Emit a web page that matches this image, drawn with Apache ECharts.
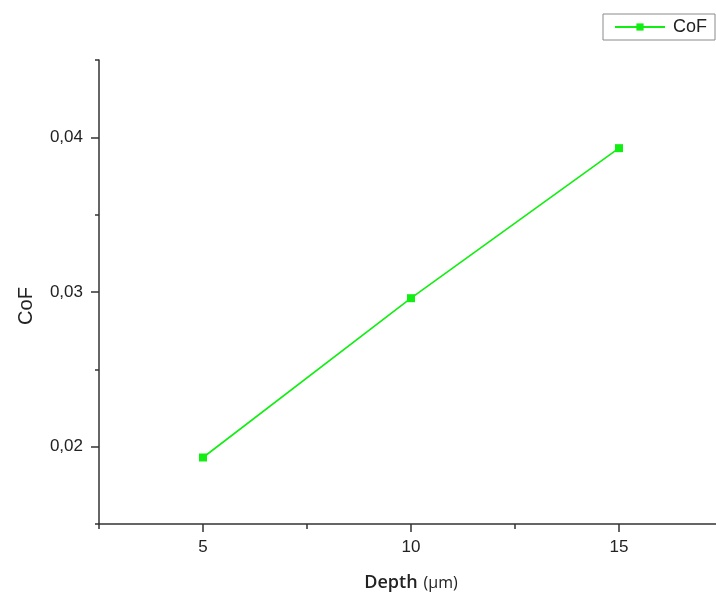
<!DOCTYPE html>
<html>
<head>
<meta charset="utf-8">
<script src="https://cdn.jsdelivr.net/npm/echarts@6/dist/echarts.min.js"></script>
<style>
  html, body { margin: 0; padding: 0; background: #ffffff; }
  #chart { width: 716px; height: 598px; }
</style>
</head>
<body>
<div id="chart"></div>
<script>
// Coefficient of friction measured at each scratch depth
const depths = [5, 10, 15];
const cofValues = [0.0193, 0.0296, 0.0393];

// Axis ranges and tick positions
const xRange = [2.5, 17.5];
const yRange = [0.015, 0.045];
const xMajorTicks = [5, 10, 15];
const xMinorTicks = [2.5, 7.5, 12.5, 17.5];
const yMajorTicks = [0.02, 0.03, 0.04];
const yMinorTicks = [0.015, 0.025, 0.035, 0.045];

const axisColor = '#333333';
const textColor = '#222222';
const green = '#11ee11';

const chart = echarts.init(document.getElementById('chart'), null, { renderer: 'canvas' });

const seriesData = depths.map((d, i) => [d, cofValues[i]]);

const option = {
  backgroundColor: '#ffffff',
  animation: false,
  grid: {
    left: 99, right: -7, top: 60, bottom: 74,
    containLabel: false,
    outerBoundsMode: 'none'
  },
  legend: {
    data: ['CoF'],
    left: 603,
    top: 14,
    itemWidth: 50,
    itemHeight: 9,
    borderColor: '#8a8a8a',
    borderWidth: 1,
    padding: [3, 8, 3, 11],
    textStyle: {
      fontFamily: 'Liberation Sans, Arial, sans-serif',
      fontSize: 18,
      lineHeight: 20,
      color: textColor,
      padding: [0, 0, 0, 3]
    }
  },
  xAxis: [
    {
      type: 'value',
      min: xRange[0],
      max: xRange[1],
      position: 'bottom',
      name: '{a|Depth}{b|(µm)}',
      nameLocation: 'middle',
      nameGap: 50,
      nameTextStyle: {
        rich: {
          a: { fontFamily: 'Open Sans, sans-serif', fontSize: 18, fontWeight: 600, color: textColor, padding: [0, 6, 0, 0] },
          b: { fontFamily: 'Open Sans, sans-serif', fontSize: 16, color: textColor }
        }
      },
      axisLine: { show: true, lineStyle: { color: axisColor, width: 1.5 } },
      axisTick: { show: true, customValues: xMajorTicks, length: 8, lineStyle: { color: axisColor, width: 1.5 } },
      axisLabel: {
        show: true,
        customValues: xMajorTicks,
        margin: 15,
        fontFamily: 'Liberation Sans, Arial, sans-serif',
        fontSize: 17,
        color: textColor
      },
      splitLine: { show: false }
    },
    {
      // minor ticks along the depth axis
      type: 'value',
      min: xRange[0],
      max: xRange[1],
      position: 'bottom',
      offset: 0,
      axisLine: { show: false },
      axisTick: { show: true, customValues: xMinorTicks, length: 5, lineStyle: { color: axisColor, width: 1.5 } },
      axisLabel: { show: false },
      splitLine: { show: false }
    }
  ],
  yAxis: [
    {
      type: 'value',
      min: yRange[0],
      max: yRange[1],
      position: 'left',
      name: 'CoF',
      nameLocation: 'middle',
      nameGap: 63,
      nameTextStyle: {
        fontFamily: 'Liberation Sans, Arial, sans-serif',
        fontSize: 20,
        color: textColor,
        padding: [0, 28, 0, 0]
      },
      axisLine: { show: true, lineStyle: { color: axisColor, width: 1.5 } },
      axisTick: { show: true, customValues: yMajorTicks, length: 8, lineStyle: { color: axisColor, width: 1.5 } },
      axisLabel: {
        show: true,
        customValues: yMajorTicks,
        margin: 16,
        fontFamily: 'Liberation Sans, Arial, sans-serif',
        fontSize: 17,
        color: textColor,
        formatter: v => v.toFixed(2).replace('.', ',')
      },
      splitLine: { show: false }
    },
    {
      // minor ticks along the CoF axis
      type: 'value',
      min: yRange[0],
      max: yRange[1],
      position: 'left',
      offset: 0,
      axisLine: { show: false },
      axisTick: { show: true, customValues: yMinorTicks, length: 4, lineStyle: { color: axisColor, width: 1.5 } },
      axisLabel: { show: false },
      splitLine: { show: false }
    }
  ],
  series: [
    {
      name: 'CoF',
      type: 'line',
      xAxisIndex: 0,
      yAxisIndex: 0,
      data: seriesData,
      symbol: 'rect',
      symbolSize: 8,
      showSymbol: true,
      lineStyle: { color: green, width: 1.6 },
      itemStyle: { color: green }
    }
  ]
};

chart.setOption(option);
</script>
</body>
</html>
